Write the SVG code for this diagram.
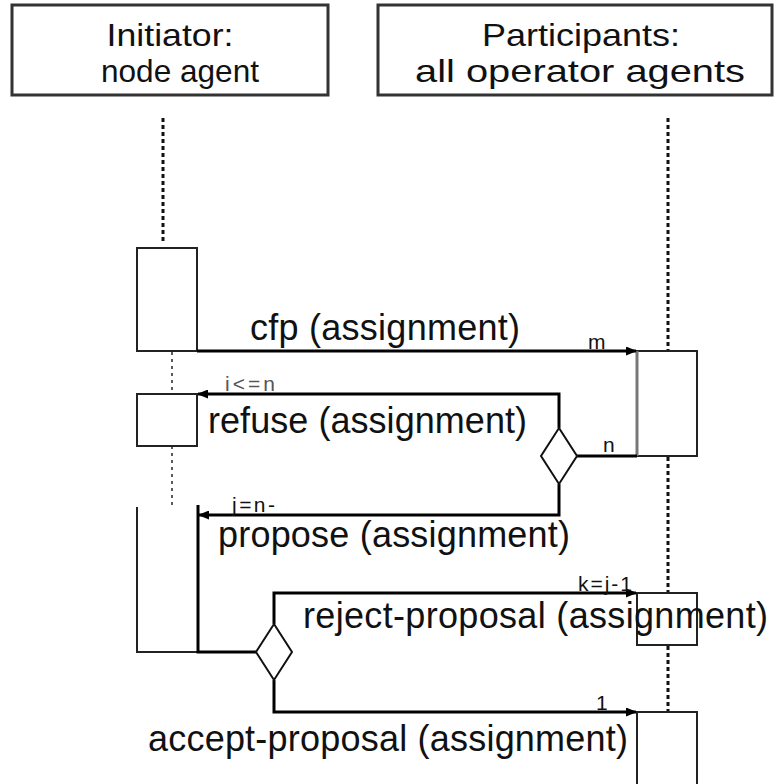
<svg xmlns="http://www.w3.org/2000/svg" width="776" height="784" viewBox="0 0 776 784">
<style>
text{font-family:"Liberation Sans",Arial,sans-serif;fill:#111}
.hdr{font-size:32px;text-anchor:middle}
.lbl{font-size:36px}
.sm{font-size:21px}
.box{fill:#fff;stroke:#222;stroke-width:2}
.hbox{fill:#fff;stroke:#333;stroke-width:3}
.msg{fill:none;stroke:#000;stroke-width:3}
.life{fill:none;stroke:#111;stroke-width:3;stroke-dasharray:4 3}
.life2{fill:none;stroke:#333;stroke-width:1.6;stroke-dasharray:3 4}
.dia{fill:#fff;stroke:#111;stroke-width:2}
</style>
<defs>
<marker id="ah" markerWidth="11" markerHeight="9" refX="10" refY="4.5" orient="auto" markerUnits="userSpaceOnUse">
<path d="M0,0 L11,4.5 L0,9 z" fill="#000"/>
</marker>
</defs>
<g id="initiator">
<rect class="hbox" x="12" y="5" width="316" height="90"/>
<text class="hdr" x="170" y="46" textLength="127" lengthAdjust="spacingAndGlyphs">Initiator:</text>
<text class="hdr" x="180" y="82" textLength="158" lengthAdjust="spacingAndGlyphs">node agent</text>
</g>
<g id="participants">
<rect class="hbox" x="378" y="5" width="394" height="90"/>
<text class="hdr" x="581" y="46" textLength="198" lengthAdjust="spacingAndGlyphs">Participants:</text>
<text class="hdr" x="580" y="82" textLength="330" lengthAdjust="spacingAndGlyphs">all operator agents</text>
</g>
<g id="lifelines">
<line class="life" x1="163" y1="118" x2="163" y2="242"/>
<line class="life2" x1="172" y1="352" x2="172" y2="394"/>
<line class="life2" x1="172" y1="446" x2="172" y2="507"/>
<line class="life" x1="668" y1="118" x2="668" y2="351"/>
<line class="life" x1="668" y1="457" x2="668" y2="593"/>
<line class="life" x1="668" y1="646" x2="668" y2="712"/>
</g>
<g id="init-act1"><rect class="box" x="137" y="248" width="60" height="103"/></g>
<g id="init-act2"><rect class="box" x="137" y="394" width="60" height="52"/></g>
<g id="part-act1"><rect class="box" x="637" y="351" width="60" height="105"/><line x1="637" y1="351" x2="637" y2="456" stroke="#777" stroke-width="3"/></g>
<g id="part-act2"><rect class="box" style="fill:none" x="637" y="593" width="60" height="52"/></g>
<g id="part-act3"><rect class="box" x="637" y="712" width="60" height="80"/></g>
<g id="init-act3"><path d="M137,507 V652 H200" fill="none" stroke="#222" stroke-width="2"/></g>
<g id="connectors">
<path class="msg" d="M197,351 H636" marker-end="url(#ah)"/>
<path class="msg" d="M559,428 V394 H198" marker-end="url(#ah)"/>
<path class="msg" d="M559,484 V515 H199" marker-end="url(#ah)"/>
<path class="msg" d="M577,456 H637"/>
<path class="msg" d="M198,505 V652 H256"/>
<path class="msg" d="M274,624 V593 H636" marker-end="url(#ah)"/>
<path class="msg" d="M274,680 V712 H636" marker-end="url(#ah)"/>
</g>
<g id="decision1"><path class="dia" d="M559,428 L577,456 L559,484 L541,456 z"/></g>
<g id="decision2"><path class="dia" d="M274,624 L292,652 L274,680 L256,652 z"/></g>
<g id="labels">
<text class="lbl" x="250" y="340" textLength="270" lengthAdjust="spacing">cfp (assignment)</text>
<text class="sm" x="588" y="349">m</text>
<text class="lbl" x="208" y="433" textLength="319" lengthAdjust="spacing">refuse (assignment)</text>
<text class="sm" x="225" y="391" textLength="50" lengthAdjust="spacing" style="fill:#555">i&lt;=n</text>
<text class="sm" x="603" y="452">n</text>
<text class="lbl" x="218" y="547" textLength="352" lengthAdjust="spacing">propose (assignment)</text>
<text class="sm" x="232" y="512" textLength="43" lengthAdjust="spacing">j=n-</text>
<text class="lbl" x="303" y="628" textLength="465" lengthAdjust="spacing">reject-proposal (assignment)</text>
<text class="sm" x="578" y="591" textLength="54" lengthAdjust="spacing">k=j-1</text>
<text class="lbl" x="148" y="751" textLength="480" lengthAdjust="spacing">accept-proposal (assignment)</text>
<text class="sm" x="596" y="710">1</text>
</g>
</svg>
